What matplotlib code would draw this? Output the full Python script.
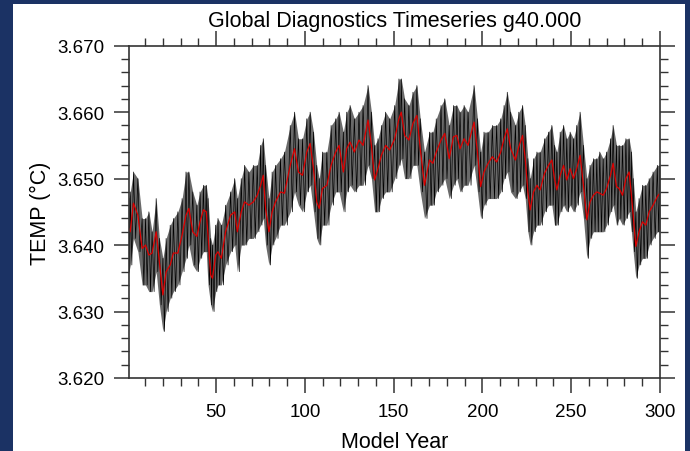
import numpy as np
import matplotlib
matplotlib.use("Agg")
import matplotlib.pyplot as plt
from matplotlib.patches import Rectangle
from matplotlib.ticker import MultipleLocator

plt.rcParams['font.family'] = ['Liberation Sans', 'DejaVu Sans']

# valores: año, media (linea roja), maximo y minimo de la serie negra
years = [1.0, 1.7, 3.5, 6.0, 8.4, 10.3, 12.2, 14.0, 16.3, 18.1, 20.1, 21.9, 24.2, 26.0, 28.5,
         30.9, 33.1, 34.7, 36.9, 39.2, 41.0, 42.9, 44.5, 45.5, 47.0, 48.0, 49.8, 51.1, 53.0, 55.4,
         58.2, 60.5, 62.0, 64.2, 66.1, 68.5, 71.0, 73.2, 75.1, 76.6, 77.9, 79.8, 81.6, 83.5, 86.3,
         88.5, 91.8, 94.2, 96.4, 98.7, 101.1, 103.0, 104.9, 106.7, 108.1, 109.9, 112.4, 114.8, 117.4, 119.3,
         121.7, 123.6, 125.5, 127.9, 130.5, 132.8, 135.6, 137.5, 139.3, 141.2, 143.1, 145.5, 147.8, 150.6, 153.0,
         154.3, 156.2, 158.6, 160.9, 163.1, 165.0, 167.4, 170.2, 172.1, 174.0, 176.7, 178.8, 181.3, 183.7, 185.6,
         187.4, 189.7, 191.9, 195.3, 197.2, 199.0, 200.9, 203.2, 205.6, 208.0, 210.3, 212.2, 214.0, 215.9, 218.6,
         220.5, 222.6, 224.1, 225.6, 226.9, 228.8, 230.7, 232.5, 235.0, 237.2, 239.1, 240.6, 241.9, 243.8, 245.7,
         247.5, 249.4, 251.3, 253.1, 255.0, 256.9, 258.8, 260.6, 262.5, 264.4, 266.1, 268.0, 269.9, 272.1, 273.6,
         275.5, 277.0, 278.9, 280.8, 282.6, 283.9, 284.9, 286.4, 288.2, 290.1, 292.0, 293.9, 296.1, 298.5, 300.0]

temp_mean = [3.6425, 3.6420, 3.6463, 3.6445, 3.6395, 3.6400, 3.6385, 3.6388, 3.6420, 3.6375, 3.6325, 3.6360, 3.6370, 3.6388, 3.6388,
             3.6415, 3.6445, 3.6455, 3.6420, 3.6413, 3.6435, 3.6453, 3.6450, 3.6415, 3.6355, 3.6350, 3.6385, 3.6390, 3.6380, 3.6420,
             3.6445, 3.6450, 3.6420, 3.6450, 3.6465, 3.6460, 3.6465, 3.6475, 3.6490, 3.6505, 3.6455, 3.6420, 3.6450, 3.6465, 3.6480,
             3.6478, 3.6520, 3.6545, 3.6510, 3.6505, 3.6540, 3.6553, 3.6515, 3.6465, 3.6455, 3.6485, 3.6490, 3.6520, 3.6540, 3.6550,
             3.6510, 3.6545, 3.6555, 3.6540, 3.6558, 3.6550, 3.6588, 3.6550, 3.6498, 3.6515, 3.6535, 3.6550, 3.6543, 3.6560, 3.6590,
             3.6600, 3.6565, 3.6558, 3.6583, 3.6595, 3.6545, 3.6490, 3.6528, 3.6523, 3.6540, 3.6558, 3.6568, 3.6530, 3.6563, 3.6565,
             3.6545, 3.6560, 3.6550, 3.6585, 3.6540, 3.6488, 3.6510, 3.6523, 3.6533, 3.6525, 3.6540, 3.6560, 3.6575, 3.6545, 3.6528,
             3.6548, 3.6565, 3.6530, 3.6480, 3.6453, 3.6480, 3.6490, 3.6483, 3.6508, 3.6520, 3.6528, 3.6500, 3.6483, 3.6505, 3.6520,
             3.6498, 3.6515, 3.6500, 3.6515, 3.6535, 3.6490, 3.6438, 3.6465, 3.6475, 3.6480, 3.6478, 3.6475, 3.6485, 3.6505, 3.6523,
             3.6488, 3.6485, 3.6475, 3.6500, 3.6510, 3.6475, 3.6445, 3.6398, 3.6420, 3.6435, 3.6430, 3.6450, 3.6460, 3.6473, 3.6478]

temp_hi = [3.647, 3.648, 3.651, 3.650, 3.644, 3.644, 3.645, 3.642, 3.647, 3.641, 3.638, 3.641, 3.643, 3.644, 3.645,
           3.647, 3.651, 3.651, 3.648, 3.646, 3.648, 3.649, 3.649, 3.647, 3.641, 3.640, 3.643, 3.644, 3.643, 3.646,
           3.648, 3.650, 3.647, 3.650, 3.652, 3.651, 3.652, 3.652, 3.655, 3.656, 3.652, 3.647, 3.651, 3.652, 3.653,
           3.654, 3.658, 3.660, 3.656, 3.656, 3.659, 3.660, 3.657, 3.652, 3.650, 3.654, 3.654, 3.658, 3.659, 3.660,
           3.657, 3.660, 3.661, 3.659, 3.660, 3.661, 3.664, 3.660, 3.655, 3.656, 3.658, 3.660, 3.659, 3.661, 3.665,
           3.665, 3.662, 3.661, 3.663, 3.664, 3.659, 3.654, 3.657, 3.657, 3.659, 3.661, 3.662, 3.658, 3.661, 3.661,
           3.660, 3.661, 3.660, 3.664, 3.659, 3.654, 3.657, 3.657, 3.658, 3.658, 3.659, 3.661, 3.663, 3.660, 3.658,
           3.660, 3.661, 3.658, 3.653, 3.650, 3.653, 3.654, 3.654, 3.656, 3.657, 3.658, 3.655, 3.654, 3.657, 3.658,
           3.656, 3.657, 3.656, 3.658, 3.660, 3.655, 3.650, 3.652, 3.653, 3.653, 3.654, 3.653, 3.654, 3.656, 3.658,
           3.655, 3.655, 3.655, 3.656, 3.656, 3.654, 3.650, 3.645, 3.647, 3.649, 3.649, 3.650, 3.651, 3.652, 3.652]

temp_lo = [3.636, 3.637, 3.641, 3.639, 3.634, 3.634, 3.633, 3.633, 3.636, 3.631, 3.627, 3.630, 3.632, 3.633, 3.634,
           3.636, 3.638, 3.640, 3.637, 3.636, 3.638, 3.639, 3.639, 3.634, 3.631, 3.630, 3.633, 3.634, 3.634, 3.637,
           3.639, 3.640, 3.636, 3.640, 3.640, 3.641, 3.641, 3.642, 3.643, 3.644, 3.640, 3.637, 3.640, 3.641, 3.643,
           3.643, 3.645, 3.648, 3.646, 3.645, 3.648, 3.649, 3.645, 3.641, 3.640, 3.643, 3.643, 3.646, 3.648, 3.648,
           3.645, 3.648, 3.649, 3.648, 3.649, 3.649, 3.652, 3.650, 3.645, 3.645, 3.647, 3.648, 3.648, 3.650, 3.652,
           3.653, 3.650, 3.650, 3.652, 3.652, 3.648, 3.644, 3.646, 3.646, 3.648, 3.649, 3.650, 3.647, 3.649, 3.650,
           3.648, 3.649, 3.649, 3.652, 3.648, 3.644, 3.646, 3.647, 3.647, 3.647, 3.648, 3.650, 3.651, 3.648, 3.647,
           3.648, 3.649, 3.647, 3.642, 3.640, 3.642, 3.643, 3.643, 3.645, 3.646, 3.646, 3.643, 3.643, 3.645, 3.646,
           3.645, 3.646, 3.645, 3.646, 3.648, 3.644, 3.638, 3.641, 3.642, 3.642, 3.642, 3.642, 3.643, 3.645, 3.646,
           3.643, 3.644, 3.643, 3.644, 3.645, 3.642, 3.639, 3.635, 3.637, 3.638, 3.638, 3.640, 3.641, 3.642, 3.642]

title = "Global Diagnostics Timeseries g40.000"

x = np.array(years)
hi = np.array(temp_hi)
lo = np.array(temp_lo)

# zigzag: maximo en cada año, minimo a medio camino hacia el siguiente
dx = np.diff(x, append=x[-1] + 1.0)
zz_x = np.column_stack([x, x + 0.5 * dx]).ravel()
zz_y = np.column_stack([hi, lo]).ravel()

fig = plt.figure(figsize=(6.9, 4.52), dpi=100)
fig.patch.set_facecolor('#1b3264')
fondo = Rectangle((13 / 690, 0), 672 / 690, 447 / 452, transform=fig.transFigure,
                  facecolor='white', edgecolor='none', zorder=-10)
fig.add_artist(fondo)

ax = fig.add_axes([129 / 690, 73 / 452, 531 / 690, 332.3 / 452])
ax.set_zorder(5)
ax.fill_between(x, lo, hi, color='#6a6a6a', lw=0)
ax.plot(zz_x, zz_y, color='black', lw=0.5)
ax.plot(x, temp_mean, color='#dd0000', lw=0.9)

ax.set_xlim(1, 300)
ax.set_ylim(3.62, 3.67)
ax.xaxis.set_major_locator(MultipleLocator(50))
ax.xaxis.set_minor_locator(MultipleLocator(10))
ax.yaxis.set_major_locator(MultipleLocator(0.01))
ax.yaxis.set_minor_locator(MultipleLocator(0.002))
ax.yaxis.set_major_formatter(matplotlib.ticker.FormatStrFormatter('%.3f'))

ax.tick_params(which='both', direction='out', top=True, right=True,
               color='#333333', labelsize=13.5)
ax.tick_params(which='major', length=11, width=1.1, pad=7)
ax.tick_params(which='minor', length=5.5, width=1.0)
for s in ax.spines.values():
    s.set_linewidth(1.2)
    s.set_color('#333333')

ax.set_xlabel('Model Year', fontsize=15.5, labelpad=8)
ax.set_ylabel('TEMP (°C)', fontsize=15.5, labelpad=4)
ax.set_title(title, fontsize=15.5, pad=14)

fig.savefig('out.png', dpi=100, facecolor=fig.get_facecolor())
